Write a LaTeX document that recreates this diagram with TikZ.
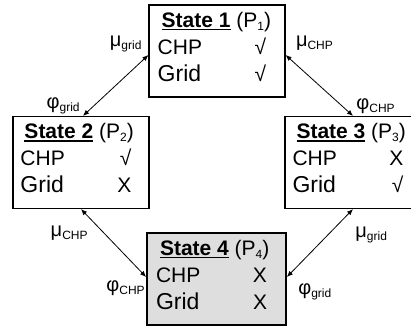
\documentclass[tikz,border=0pt]{standalone}
\usepackage{fontspec}
\setmainfont{Liberation Sans}
\usetikzlibrary{arrows.meta}
\definecolor{boxgray}{HTML}{DEDEDE}

\newcommand{\lowsub}[1]{\raisebox{-3pt}{\fontsize{12}{12}\selectfont #1}}
\newcommand{\ulhead}[1]{\setbox0\hbox{\bfseries #1}\rlap{\rule[-3pt]{\wd0}{1.6pt}}\box0\relax}
\newcommand{\statetab}[3]{%
  \begin{tabular}{@{}p{97pt}@{}r@{\hspace{10pt}}}
    \leavevmode\rlap{\hspace{4pt}\ulhead{State #1} (P\lowsub{#1})} & \\
    CHP  & #2\\
    {\fontsize{23}{27}\selectfont Grid} & #3\rule[-12pt]{0pt}{0pt}
  \end{tabular}}

\begin{document}
\begin{tikzpicture}[
    x=1pt, y=1pt,
    state/.style={
        draw,
        line width=1.2pt,
        inner sep=0pt,
        minimum width=136pt,
        minimum height=92pt,
        font=\fontsize{21}{27}\selectfont
    },
    finalstate/.style={
        state,
        line width=1.8pt,
        fill=boxgray,
        minimum width=139pt
    },
    trans/.style={
        {Latex[length=6pt,width=5pt]}-{Latex[length=6pt,width=5pt]},
        line width=.8pt
    },
    rate/.style={
        inner sep=0pt,
        font=\fontsize{20}{24}\selectfont
    }
]
\useasboundingbox (0,0) rectangle (411,329);

% ------------------------------------------------
% States
% ------------------------------------------------
\node[state]      (s1) at (217,278)    {\statetab{1}{√}{√}};
\node[state]      (s2) at (81,166.5)   {\statetab{2}{√}{X}};
\node[state]      (s3) at (353,166.5)  {\statetab{3}{X}{√}};
\node[finalstate] (s4) at (216.5,50)   {\statetab{4}{X}{X}};

% ------------------------------------------------
% Transitions
% ------------------------------------------------
\draw[trans] ([xshift=2pt]s2.north) -- ([yshift=-4pt]s1.west)
    node[rate, pos=1, anchor=south east, xshift=-6.5pt, yshift=2.5pt] (mu12) {μ\lowsub{grid}}
    node[rate, pos=0, anchor=south east, xshift=-3pt, yshift=1.5pt] (phi12) {φ\lowsub{grid}};

\draw[trans] ([yshift=-4pt]s1.east) -- (s3.north)
    node[rate, pos=0, anchor=south west, xshift=10pt, yshift=4pt] (mu13) {μ\lowsub{CHP}}
    node[rate, pos=1, anchor=south west, xshift=3pt, yshift=1.5pt] (phi13) {φ\lowsub{CHP}};

\draw[trans] (s2.south) -- ([yshift=2pt]s4.west)
    node[rate, pos=0, anchor=north east, xshift=7pt, yshift=-16pt] (mu24) {μ\lowsub{CHP}}
    node[rate, pos=1, anchor=north east, xshift=-1pt, yshift=-3pt] (phi24) {φ\lowsub{CHP}};

\draw[trans] (s3.south) -- ([yshift=2pt]s4.east)
    node[rate, pos=0, anchor=north west, xshift=2pt, yshift=-17pt] (mu34) {μ\lowsub{grid}}
    node[rate, pos=1, anchor=north west, xshift=11pt, yshift=-6pt] (phi34) {φ\lowsub{grid}};

\end{tikzpicture}
\end{document}
